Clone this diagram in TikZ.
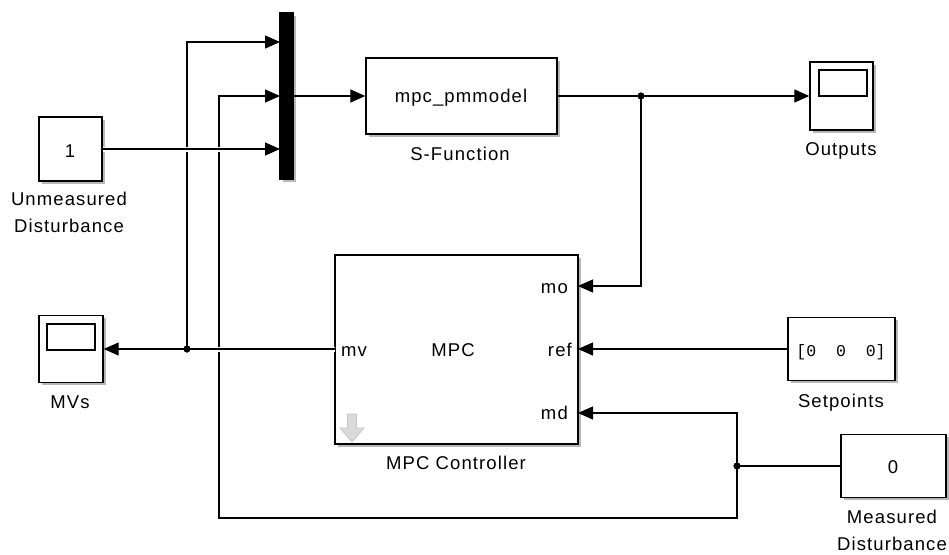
\documentclass[tikz,border=0pt]{standalone}
\usepackage{fontspec}
\setmainfont{Liberation Sans}[LetterSpace=6]
\newfontfamily\monofnt{Liberation Mono}
\usetikzlibrary{arrows.meta,shadows}
\begin{document}
\begin{tikzpicture}[x=1pt,y=-1pt,
  font=\fontsize{18.5}{21}\selectfont,
  blk/.style={draw, line width=1.4pt, fill=white, inner sep=0pt,
    drop shadow={shadow xshift=2.5pt,shadow yshift=-2.5pt,fill=black,opacity=0.28}},
  wire/.style={line width=1.3pt},
  arr/.style={-{Triangle[length=15pt,width=13pt]}},
  halo/.style={white, line width=5pt},
  lbl/.style={anchor=base, inner sep=0pt},
  dot/.style={circle, fill=black, inner sep=0pt, minimum size=7pt}]
\path[use as bounding box] (0,0) rectangle (949,554);

% blocks
\node[blk, minimum width=63pt, minimum height=64pt] (const1) at (70.5,149) {};
\node[blk, fill=black, minimum width=13pt, minimum height=166pt] (mux) at (286.5,96) {};
\node[blk, minimum width=191pt, minimum height=76pt] (sfun) at (461.5,96) {};
\node[blk, minimum width=63pt, minimum height=68pt] (outs) at (841.5,96) {};
\node[blk, minimum width=243pt, minimum height=189pt] (mpc) at (456.5,349.5) {};
\node[blk, minimum width=64pt, minimum height=67pt] (mvs) at (71,349) {};
\node[blk, minimum width=107pt, minimum height=63pt] (setp) at (841.5,349) {};
\node[blk, minimum width=105pt, minimum height=63pt] (meas) at (893.5,466) {};

% scope screens
\draw[line width=1.3pt] (819,70) rectangle (867,96);
\draw[line width=1.3pt] (47,324) rectangle (95,350);

% block texts
\node[lbl] (t1) at (70,157) {1};
\node[lbl] (t0) at (893,473) {0};
\node[lbl] (tsf) at (461,102) {mpc\_pmmodel};
\node[lbl, font=\monofnt\fontsize{16.5}{18}\selectfont] (tsp) at (841,356) {[0\ \ 0\ \ 0]};
\node[lbl, anchor=base west] (tmv) at (341,356) {mv};
\node[lbl] (tmpc) at (453,356) {MPC};
\node[lbl, anchor=base east] (tmo) at (568,293) {mo};
\node[lbl, anchor=base east] (tref) at (572,356) {ref};
\node[lbl, anchor=base east] (tmd) at (568,419) {md};

% gray arrow icon
\draw[fill=gray!30, draw=gray!45, line width=0.8pt]
  (347.5,414) -- (356.5,414) -- (356.5,428) -- (364,428) -- (352,442)
  -- (340,428) -- (347.5,428) -- cycle;

% labels
\node[lbl] (l1) at (69,205) {Unmeasured};
\node[lbl] (l2) at (69,232) {Disturbance};
\node[lbl] (l3) at (460,160) {S-Function};
\node[lbl] (l4) at (841,155) {Outputs};
\node[lbl] (l5) at (456,469) {MPC Controller};
\node[lbl] (l6) at (70,408) {MVs};
\node[lbl] (l7) at (841,407) {Setpoints};
\node[lbl] (l8) at (892,523) {Measured};
\node[lbl] (l9) at (892,550) {Disturbance};

% ports / junctions
\coordinate (min1) at (280,42);
\coordinate (min2) at (280,96);
\coordinate (min3) at (280,149);
\coordinate (pmo) at (578,286);
\coordinate (pref) at (578,349);
\coordinate (pmd) at (578,413);
\coordinate (pmv) at (335,349);
\node[dot] (j1) at (641,96) {};
\node[dot] (j2) at (187,349) {};
\node[dot] (j3) at (737,466) {};
\coordinate (c1) at (737,518);
\coordinate (c2) at (219,518);
\coordinate (c3) at (219,96);

% vertical feedback wires
\draw[wire, arr] (j2.center) |- (min1);
\draw[wire, arr] (j3.center) -- (c1) -- (c2) -- (c3) -- (min2);

% horizontal wires with crossing gaps
\draw[halo] (const1.east) -- ([xshift=-16pt]min3);
\draw[wire, arr] (const1.east) -- (min3);
\draw[halo] (pmv) -- (j2.center);
\draw[wire, arr] (pmv) -- (mvs.east);

\draw[wire, arr] (mux.east) -- (sfun.west);
\draw[wire, arr] (sfun.east) -- (outs.west);
\draw[wire, arr] (j1.center) |- (pmo);
\draw[wire, arr] (setp.west) -- (pref);
\draw[wire] (meas.west) -- (j3.center);
\draw[wire, arr] (j3.center) |- (pmd);

% redraw dots on top
\node[dot] at (j1) {};
\node[dot] at (j2) {};
\node[dot] at (j3) {};
\end{tikzpicture}
\end{document}
